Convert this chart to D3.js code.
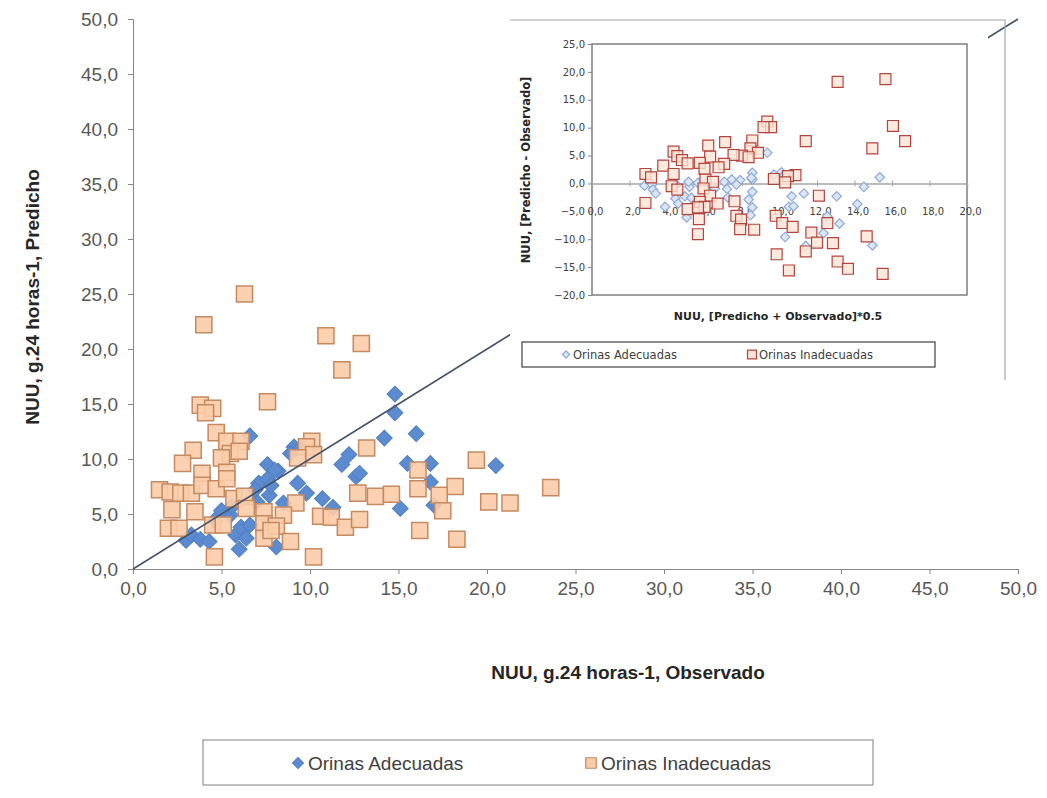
<!DOCTYPE html>
<html>
<head>
<meta charset="utf-8">
<script src="https://cdn.jsdelivr.net/npm/d3@7"></script>
<style>
  body { margin: 0; background: #fff; }
  svg { display: block; }
</style>
</head>
<body>
<div id="chart"></div>
<script>
// Series names
const seriesNames = ["Orinas Adecuadas", "Orinas Inadecuadas"];

// Orinas Adecuadas: observado (x) and predicho (y)
const adecuadasObs  = [3.0, 3.3, 3.8, 4.3, 5.5, 5.6, 5.8, 6.1, 6.0, 6.4, 6.6, 7.0, 7.1, 7.6, 7.7, 7.6, 7.8, 8.2, 8.1, 6.6,
                       9.1, 9.3, 9.8, 10.7, 11.3, 11.8, 12.2, 12.6, 12.8, 14.2, 14.8, 14.8, 15.5, 15.1, 16.0, 16.8, 16.8, 17.0, 20.5,
                       8.0, 8.9, 9.5, 5.0, 4.6, 6.9, 8.5];
const adecuadasPred = [2.6, 3.1, 2.7, 2.5, 4.9, 5.7, 3.1, 3.8, 1.8, 2.8, 4.0, 6.1, 7.8, 8.2, 6.7, 9.5, 7.6, 8.9, 2.0, 12.1,
                       11.1, 7.8, 6.9, 6.4, 5.6, 9.5, 10.4, 8.4, 8.7, 11.9, 15.9, 14.2, 9.6, 5.5, 12.3, 9.6, 7.9, 5.8, 9.4,
                       9.0, 10.5, 11.0, 5.3, 4.4, 7.2, 6.0];

// Orinas Inadecuadas: observado (x) and predicho (y)
const inadecuadasObs  = [4.0, 6.3, 10.9, 12.9, 11.8, 3.8, 4.5, 4.1, 7.6, 4.7, 5.3, 6.1, 5.5, 5.0, 6.0, 3.4, 2.8, 3.9, 5.3,
                         10.1, 9.8, 10.2, 9.3, 13.2, 16.1, 1.5, 2.1, 2.7, 3.3, 3.9, 4.7, 5.7, 6.3, 6.4, 2.2, 3.5, 7.4,
                         2.0, 2.6, 4.5, 5.1, 7.4, 7.4, 4.6, 12.7, 13.7, 14.6, 16.1, 9.2, 8.5, 8.1, 8.9, 10.6, 11.2, 12.0,
                         12.8, 10.2, 16.2, 19.4, 18.2, 17.3, 17.5, 20.1, 21.3, 23.6, 18.3, 5.3, 7.8];
const inadecuadasPred = [22.2, 25.0, 21.2, 20.5, 18.1, 14.9, 14.6, 14.2, 15.2, 12.4, 11.6, 11.6, 10.5, 10.1, 10.7, 10.8, 9.6, 8.7, 8.8,
                         11.6, 11.1, 10.4, 10.1, 11.0, 9.0, 7.2, 7.0, 6.9, 6.9, 7.6, 7.3, 6.4, 6.6, 5.5, 5.4, 5.2, 5.2,
                         3.7, 3.7, 4.0, 4.0, 4.1, 2.8, 1.1, 6.9, 6.6, 6.8, 7.3, 6.0, 4.9, 3.9, 2.5, 4.8, 4.7, 3.8,
                         4.5, 1.1, 3.5, 9.9, 7.5, 6.7, 5.3, 6.1, 6.0, 7.4, 2.7, 8.2, 3.5];

// Tick values
const mainTicks = [0, 5, 10, 15, 20, 25, 30, 35, 40, 45, 50];
const insetXTicks = [0, 2, 4, 6, 8, 10, 12, 14, 16, 18, 20];
const insetYTicks = [-20, -15, -10, -5, 0, 5, 10, 15, 20, 25];

const fmt = d => d3.format(".1f")(d).replace(".", ",");

const width = 1047, height = 798;
const svg = d3.select("#chart").append("svg")
    .attr("width", width)
    .attr("height", height);

const mainFont = "'Liberation Sans Narrow', 'Liberation Sans', sans-serif";
const insetFont = "'DejaVu Sans', sans-serif";

// diamond = square turned 45 degrees (Excel style)
const diamondPath = d3.symbol().type(d3.symbolSquare);

// --- Main chart scales ---
const x = d3.scaleLinear().domain([0, 50]).range([133, 1018]);
const y = d3.scaleLinear().domain([0, 50]).range([569, 19]);

const adecuadas = adecuadasObs.map((o, i) => ({ obs: o, pred: adecuadasPred[i] }));
const inadecuadas = inadecuadasObs.map((o, i) => ({ obs: o, pred: inadecuadasPred[i] }));

// Y axis
const yAxis = svg.append("g")
    .attr("transform", `translate(${x(0)},0)`)
    .call(d3.axisLeft(y).tickValues(mainTicks).tickFormat(fmt).tickSize(5).tickPadding(10));
yAxis.select(".domain").attr("stroke", "#868686");
yAxis.selectAll(".tick line").attr("stroke", "#868686");
yAxis.selectAll("text").attr("font-family", mainFont).attr("font-size", 19).attr("fill", "#595959");

// X axis
const xAxis = svg.append("g")
    .attr("transform", `translate(0,${y(0)})`)
    .call(d3.axisBottom(x).tickValues(mainTicks).tickFormat(fmt).tickSize(5).tickPadding(8));
xAxis.select(".domain").attr("stroke", "#868686");
xAxis.selectAll(".tick line").attr("stroke", "#868686");
xAxis.selectAll("text").attr("font-family", mainFont).attr("font-size", 19).attr("fill", "#595959");

// Axis titles
svg.append("text")
    .attr("x", 628).attr("y", 679)
    .attr("text-anchor", "middle")
    .attr("font-family", mainFont).attr("font-weight", "bold").attr("font-size", 19)
    .attr("fill", "#262626")
    .text("NUU, g.24 horas-1,  Observado");

svg.append("text")
    .attr("transform", `translate(39,297) rotate(-90)`)
    .attr("text-anchor", "middle")
    .attr("font-family", mainFont).attr("font-weight", "bold").attr("font-size", 19)
    .attr("fill", "#262626")
    .text("NUU, g.24 horas-1,  Predicho");

// Markers
svg.append("g").selectAll("path")
    .data(adecuadas)
    .enter().append("path")
    .attr("d", diamondPath.size(125))
    .attr("transform", d => `translate(${x(d.obs)},${y(d.pred)}) rotate(45)`)
    .attr("fill", "#5d8bcf")
    .attr("stroke", "#4f7fc4")
    .attr("stroke-width", 1);

svg.append("g").selectAll("path")
    .data(inadecuadas)
    .enter().append("path")
    .attr("d", d3.symbol().type(d3.symbolSquare).size(260))
    .attr("transform", d => `translate(${x(d.obs)},${y(d.pred)})`)
    .attr("fill", "#fbcca8")
    .attr("fill-opacity", 0.9)
    .attr("stroke", "#c48a62")
    .attr("stroke-width", 1.5);

// 1:1 line
svg.append("line")
    .attr("x1", x(0)).attr("y1", y(0))
    .attr("x2", x(50)).attr("y2", y(50))
    .attr("stroke", "#44546a")
    .attr("stroke-width", 1.6);

// Main legend
const legend = svg.append("g");
legend.append("rect")
    .attr("x", 203).attr("y", 740).attr("width", 670).attr("height", 45)
    .attr("fill", "#fff").attr("stroke", "#7f7f7f");
legend.append("path")
    .attr("d", d3.symbol().type(d3.symbolSquare).size(60))
    .attr("transform", "translate(298,763) rotate(45)")
    .attr("fill", "#5d8bcf").attr("stroke", "#4f7fc4");
legend.append("text")
    .attr("x", 308).attr("y", 770)
    .attr("font-family", mainFont).attr("font-size", 19).attr("fill", "#404040")
    .text(seriesNames[0]);
legend.append("path")
    .attr("d", d3.symbol().type(d3.symbolSquare).size(110))
    .attr("transform", "translate(591,763)")
    .attr("fill", "#fbcca8").attr("stroke", "#c48a62").attr("stroke-width", 1.2);
legend.append("text")
    .attr("x", 601).attr("y", 770)
    .attr("font-family", mainFont).attr("font-size", 19).attr("fill", "#404040")
    .text(seriesNames[1]);

// --- Inset (Bland-Altman) ---
const inset = svg.append("g");
inset.append("rect")
    .attr("x", 510).attr("y", 20).attr("width", 478).attr("height", 358)
    .attr("fill", "#fff");
inset.append("path")
    .attr("d", "M510,20 H1005 V380")
    .attr("fill", "none").attr("stroke", "#a6a6a6").attr("stroke-width", 1.2);

const ix = d3.scaleLinear().domain([0, 20]).range([592, 967]);
const iy = d3.scaleLinear().domain([-20, 25]).range([295, 44]);

inset.append("rect")
    .attr("x", ix(0)).attr("y", iy(25))
    .attr("width", ix(20) - ix(0)).attr("height", iy(-20) - iy(25))
    .attr("fill", "none").attr("stroke", "#7f7f7f").attr("stroke-width", 1.5);

const iyAxis = inset.append("g")
    .attr("transform", `translate(${ix(0)},0)`)
    .call(d3.axisLeft(iy).tickValues(insetYTicks).tickFormat(fmt).tickSize(4).tickPadding(3));
iyAxis.select(".domain").remove();
iyAxis.selectAll(".tick line").attr("stroke", "#868686");
iyAxis.selectAll("text").attr("font-family", insetFont).attr("font-size", 10).attr("fill", "#404040");

const ixAxis = inset.append("g")
    .attr("transform", `translate(0,${iy(0)})`)
    .call(d3.axisBottom(ix).tickValues(insetXTicks).tickFormat(fmt).tickSize(4).tickPadding(20));
ixAxis.select(".domain").attr("stroke", "#a6a6a6").attr("stroke-width", 1.5);
ixAxis.selectAll(".tick line").attr("stroke", "#a6a6a6").attr("y1", -3).attr("y2", 3);
ixAxis.selectAll("text").attr("font-family", insetFont).attr("font-size", 10).attr("fill", "#404040")
    .attr("dx", 3);

inset.append("text")
    .attr("transform", `translate(530,170) rotate(-90)`)
    .attr("text-anchor", "middle")
    .attr("font-family", insetFont).attr("font-weight", "bold").attr("font-size", 11.5)
    .attr("fill", "#262626")
    .text("NUU, [Predicho - Observado]");

inset.append("text")
    .attr("x", 778).attr("y", 320)
    .attr("text-anchor", "middle")
    .attr("font-family", insetFont).attr("font-weight", "bold").attr("font-size", 11)
    .attr("fill", "#262626")
    .text("NUU, [Predicho + Observado]*0.5");

inset.append("g").selectAll("path")
    .data(adecuadas)
    .enter().append("path")
    .attr("d", d3.symbol().type(d3.symbolSquare).size(45))
    .attr("transform", d => `translate(${ix((d.obs + d.pred) / 2)},${iy(d.pred - d.obs)}) rotate(45)`)
    .attr("fill", "#dbe5f4")
    .attr("stroke", "#8eaadb")
    .attr("stroke-width", 1.2);

inset.append("g").selectAll("path")
    .data(inadecuadas)
    .enter().append("path")
    .attr("d", d3.symbol().type(d3.symbolSquare).size(120))
    .attr("transform", d => `translate(${ix((d.obs + d.pred) / 2)},${iy(d.pred - d.obs)})`)
    .attr("fill", "#fde3d4")
    .attr("fill-opacity", 0.8)
    .attr("stroke", "#b5443f")
    .attr("stroke-width", 1.2);

// Inset legend
const il = inset.append("g");
il.append("rect")
    .attr("x", 522).attr("y", 342).attr("width", 413).attr("height", 25)
    .attr("fill", "#fff").attr("stroke", "#404040").attr("stroke-width", 1.2);
il.append("path")
    .attr("d", d3.symbol().type(d3.symbolSquare).size(25))
    .attr("transform", "translate(566,354.5) rotate(45)")
    .attr("fill", "#dbe5f4").attr("stroke", "#8eaadb").attr("stroke-width", 1.2);
il.append("text")
    .attr("x", 573).attr("y", 359)
    .attr("font-family", insetFont).attr("font-size", 11.5).attr("fill", "#404040")
    .text(seriesNames[0]);
il.append("path")
    .attr("d", d3.symbol().type(d3.symbolSquare).size(80))
    .attr("transform", "translate(752,354.5)")
    .attr("fill", "#fde3d4").attr("stroke", "#b5443f").attr("stroke-width", 1.2);
il.append("text")
    .attr("x", 759).attr("y", 359)
    .attr("font-family", insetFont).attr("font-size", 11.5).attr("fill", "#404040")
    .text(seriesNames[1]);
</script>
</body>
</html>
